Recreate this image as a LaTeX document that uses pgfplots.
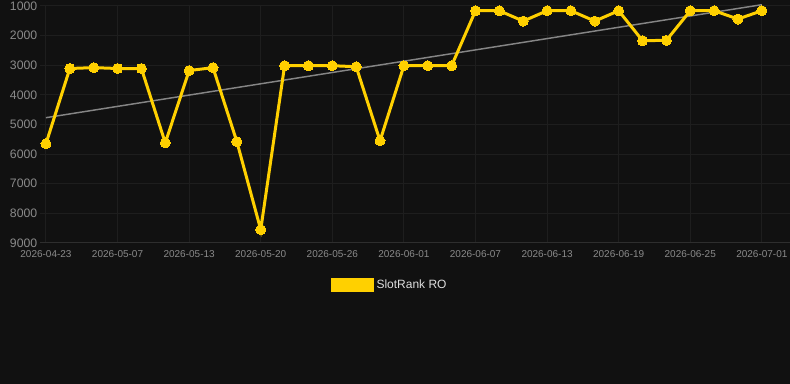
\documentclass[border=0pt]{standalone}
\usepackage{fontspec}
\setmainfont{Liberation Sans}
\usepackage{pgfplots}
\pgfplotsset{compat=1.18}
\definecolor{bg}{HTML}{111111}
\definecolor{ylw}{HTML}{FFD000}
\definecolor{gridc}{HTML}{1E1E1E}
\definecolor{basec}{HTML}{2E2E2E}
\definecolor{tickc}{HTML}{8A8A8A}
\definecolor{trend}{HTML}{858585}
\definecolor{legc}{HTML}{DDDDDD}
\begin{document}
\begin{tikzpicture}[x=1pt,y=1pt]
\fill[bg] (0,0) rectangle (592.5,288);
\begin{axis}[
  at={(30pt,105.75pt)}, anchor=south west,
  scale only axis, width=562.5pt, height=177.75pt,
  xmin=-0.25, xmax=31.18, ymin=1000, ymax=9000, y dir=reverse,
  axis line style={draw=none},
  xtick={0,3,...,30},
  xticklabels={2026-04-23,2026-05-07,2026-05-13,2026-05-20,2026-05-26,2026-06-01,2026-06-07,2026-06-13,2026-06-19,2026-06-25,2026-07-01},
  ytick={1000,2000,...,9000},
  grid=major, major grid style={draw=gridc, line width=0.75pt},
  tick style={draw=none},
  /pgf/number format/assume math mode=true,
  /pgf/number format/set thousands separator={},
  yticklabel style={font=\fontsize{9.2}{10}\selectfont, text=tickc, xshift=1.5pt},
  xticklabel style={font=\fontsize{7.5}{9}\selectfont, text=tickc, yshift=-2pt},
  clip=false,
  legend style={at={(0.4667,-0.177)}, anchor=center, draw=none, fill=none,
    text=legc, font=\fontsize{9}{11}\selectfont},
  legend image code/.code={\fill[ylw] (0pt,-4.1pt) rectangle (30pt,4.1pt);},
]
\draw[basec, line width=0.75pt] (axis cs:-0.25,9000) -- (axis cs:31.18,9000);
\addplot[trend, line width=1.1pt, forget plot] coordinates {(0,4770) (30,956)};
\addplot[ylw, line width=2.25pt, mark=*, mark size=3.75pt, mark options={fill=ylw, draw=ylw, line width=0pt}] table {
x y
0 5650
1 3110
2 3080
3 3110
4 3110
5 5620
6 3180
7 3080
8 5580
9 8550
10 3015
11 3015
12 3015
13 3050
14 5550
15 3015
16 3015
17 3015
18 1160
19 1160
20 1510
21 1160
22 1160
23 1510
24 1160
25 2170
26 2160
27 1160
28 1160
29 1440
30 1160
};
\addlegendentry{SlotRank RO}
\end{axis}
\pgfresetboundingbox
\path[use as bounding box] (0,0) rectangle (592.5,288);
\end{tikzpicture}
\end{document}
